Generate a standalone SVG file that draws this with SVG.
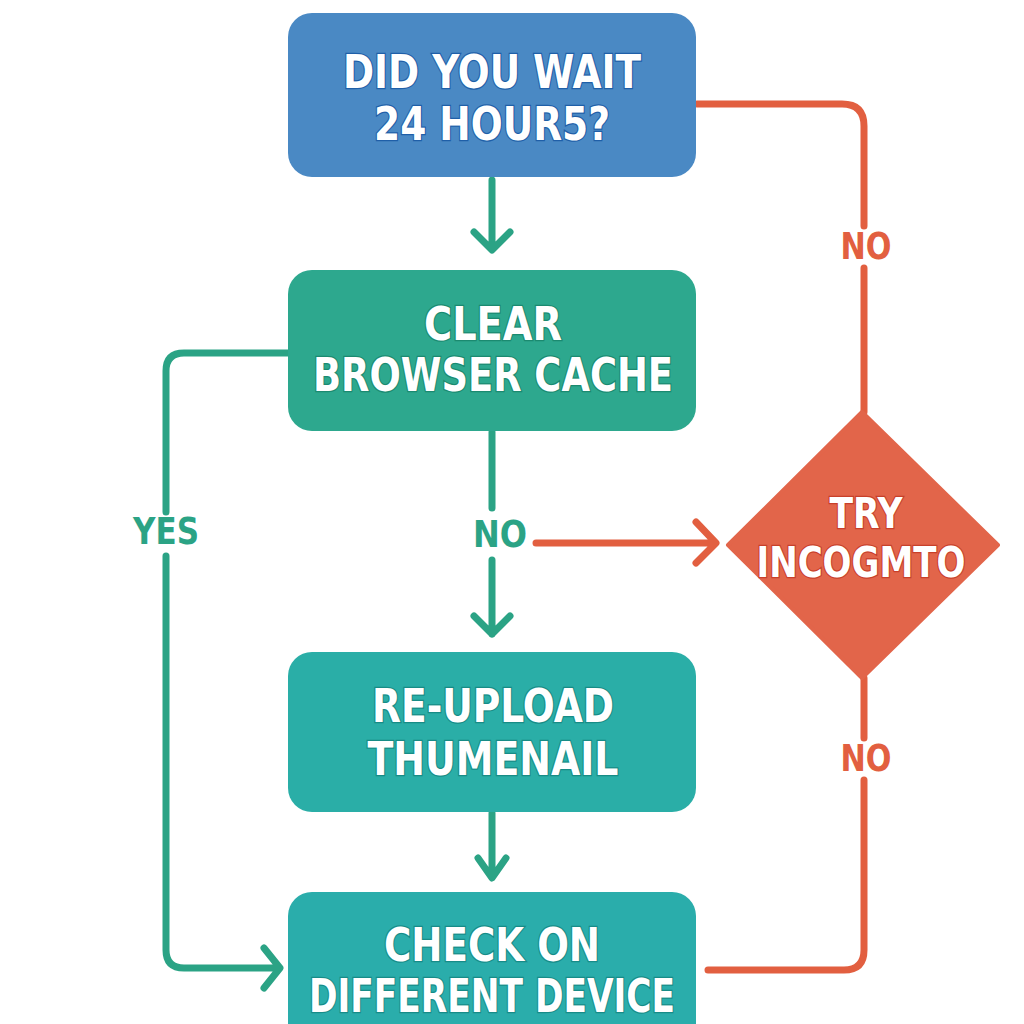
<svg xmlns="http://www.w3.org/2000/svg" width="1024" height="1024" viewBox="0 0 1024 1024">
<defs>
<style>
.lbl{font-family:"DejaVu Sans Condensed","DejaVu Sans","Liberation Sans",sans-serif;font-weight:bold;text-anchor:middle;fill:#fff;paint-order:stroke;stroke-width:2.5}
.edge{fill:none;stroke-width:7;stroke-linecap:round;stroke-linejoin:round}
.g{stroke:#2BA385}
.r{stroke:#E25F40}
.elbl{font-family:"DejaVu Sans Condensed","DejaVu Sans","Liberation Sans",sans-serif;font-weight:bold;text-anchor:middle;font-size:37px}
</style>
</defs>
<g id="connectors">
<path class="edge g" d="M492 180 V248 M474 232 L492 250 L510 232"/>
<path class="edge r" d="M697 104 H842 Q864 104 864 126 V226 M864 268 V412"/>
<text class="elbl" x="866" y="259" fill="#E25F40" textLength="51" lengthAdjust="spacingAndGlyphs">NO</text>
<path class="edge g" d="M288 353 H184 Q166 353 166 371 V512 M166 556 V950 Q166 968 184 968 H278 M264 948 L280 968 L264 988"/>
<text class="elbl" x="166" y="544" fill="#2BA385" textLength="66" lengthAdjust="spacingAndGlyphs">YES</text>
<path class="edge g" d="M492 432 V508 M492 560 V634 M474 616 L492 634 L510 616"/>
<text class="elbl" x="500" y="547" fill="#2BA385" textLength="54" lengthAdjust="spacingAndGlyphs">NO</text>
<path class="edge r" d="M536 543 H714 M696 522 L716 543 L696 563"/>
<path class="edge r" d="M864 678 V738 M864 780 V950 Q864 970 844 970 H708"/>
<text class="elbl" x="866" y="771" fill="#E25F40" textLength="51" lengthAdjust="spacingAndGlyphs">NO</text>
<path class="edge g" d="M492 813 V876 M478 858 L492 878 L506 858"/>
</g>
<g id="n1">
<rect x="288" y="13" width="408" height="164" rx="24" fill="#4A89C4"/>
<text class="lbl" x="492" y="88" font-size="47" stroke="#1F5FA8" textLength="298" lengthAdjust="spacingAndGlyphs">DID YOU WAIT</text>
<text class="lbl" x="492" y="140" font-size="47" stroke="#1F5FA8" textLength="236" lengthAdjust="spacingAndGlyphs">24 HOUR5?</text>
</g>
<g id="n2">
<rect x="288" y="270" width="408" height="161" rx="24" fill="#2DA88E"/>
<text class="lbl" x="493" y="340" font-size="47" stroke="#1B8A70" textLength="138" lengthAdjust="spacingAndGlyphs">CLEAR</text>
<text class="lbl" x="493" y="391" font-size="47" stroke="#1B8A70" textLength="360" lengthAdjust="spacingAndGlyphs">BROWSER CACHE</text>
</g>
<g id="n3">
<polygon points="862,412 998,545 862,678 728,545" fill="#E2654A" stroke="#E2654A" stroke-width="4" stroke-linejoin="round"/>
<text class="lbl" x="866" y="528" font-size="42" stroke="#C8402A" textLength="73" lengthAdjust="spacingAndGlyphs">TRY</text>
<text class="lbl" x="861" y="577" font-size="42" stroke="#C8402A" textLength="209" lengthAdjust="spacingAndGlyphs">INCOGMTO</text>
</g>
<g id="n4">
<rect x="288" y="652" width="408" height="160" rx="24" fill="#2AAEA7"/>
<text class="lbl" x="493" y="722" font-size="47" stroke="#178C86" textLength="242" lengthAdjust="spacingAndGlyphs">RE-UPLOAD</text>
<text class="lbl" x="493" y="775" font-size="47" stroke="#178C86" textLength="251" lengthAdjust="spacingAndGlyphs">THUMENAIL</text>
</g>
<g id="n5">
<rect x="288" y="892" width="408" height="160" rx="24" fill="#2AADAB"/>
<text class="lbl" x="492" y="961" font-size="47" stroke="#178C88" textLength="216" lengthAdjust="spacingAndGlyphs">CHECK ON</text>
<text class="lbl" x="492" y="1012" font-size="47" stroke="#178C88" textLength="366" lengthAdjust="spacingAndGlyphs">DIFFERENT DEVICE</text>
</g>
</svg>
